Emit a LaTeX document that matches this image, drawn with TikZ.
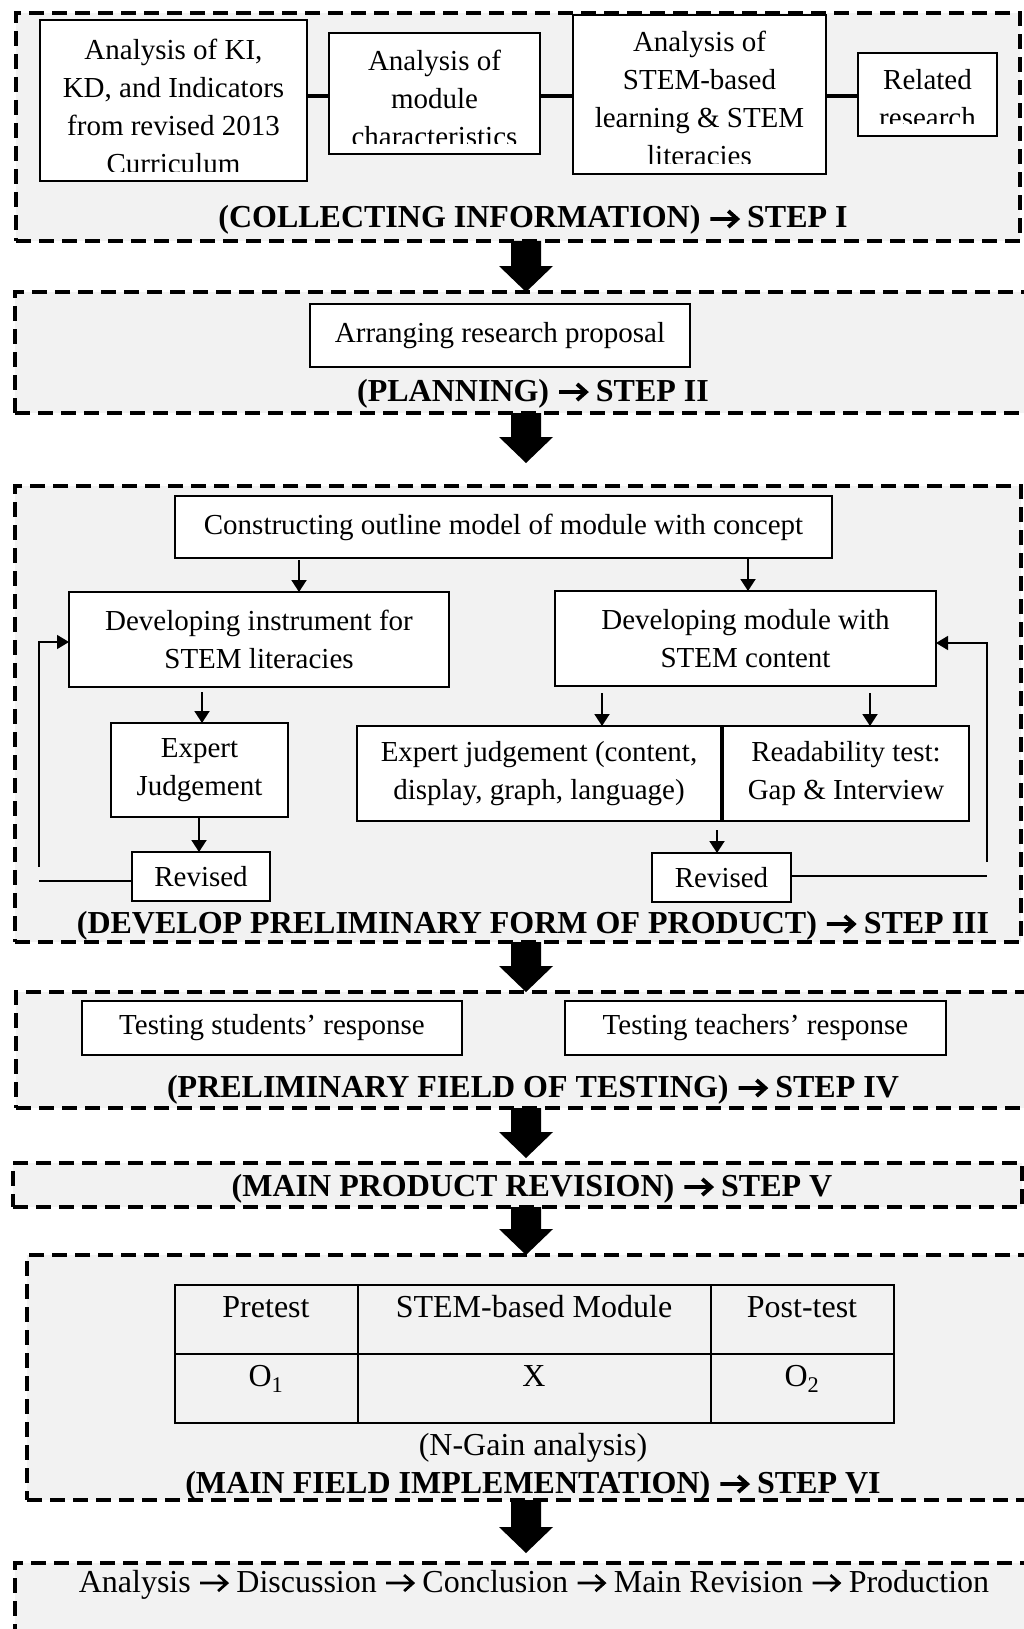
\documentclass[tikz,border=0pt]{standalone}
\usepackage{fontspec}
\setmainfont{Liberation Serif}
\usetikzlibrary{calc,arrows.meta}
\definecolor{panel}{RGB}{242,242,242}
\newcommand\rarr[1][0.12em]{\tikz[baseline=0pt]\draw[line width=#1,line cap=butt,line join=miter,miter limit=10] (0pt,0.28em)--(0.82em,0.28em) (0.56em,0.53em)--(0.84em,0.28em)--(0.56em,0.03em);}
\newcommand\ml[1]{\begin{tabular}[t]{@{}c@{}}#1\end{tabular}}
\newcommand\barrow[2]{\fill[black] ($(#1)+(-15,0)$) -- ($(#2)+(-15,-26)$) -- ($(#2)+(-27,-26)$) -- (#2) -- ($(#2)+(27,-26)$) -- ($(#2)+(15,-26)$) -- ($(#1)+(15,0)$) -- cycle;}
\begin{document}
\begin{tikzpicture}[x=1pt,y=-1pt,font=\fontsize{29}{38}\selectfont,
  stage/.style={draw,line width=3.5pt,dash pattern=on 15pt off 8pt,fill=panel,rectangle,inner sep=0pt,outer sep=0pt,anchor=north west},
  box/.style={draw,line width=1.4pt,fill=white,rectangle,inner sep=0pt,outer sep=0pt,align=center,anchor=north west},
  lbl/.style={font=\fontsize{32}{38}\selectfont\bfseries,anchor=base,inner sep=0pt},
  big/.style={font=\fontsize{32}{38}\selectfont,anchor=base,inner sep=0pt},
  txt/.style={anchor=base,inner sep=0pt},
  arr/.style={line width=1.9pt,-{Triangle[length=12pt,width=15pt]}},
  fb/.style={line width=1.3pt},
  fbarr/.style={line width=1.3pt,-{Triangle[length=12pt,width=14pt]}},
  link/.style={line width=4.5pt}]
\useasboundingbox (0,0) rectangle (1023,1629);

% ---- stage panels ----
\node[stage,minimum width=1004pt,minimum height=228pt] (s1) at (16,13) {};
\node[stage,minimum width=1025pt,minimum height=121pt] (s2) at (15,292) {};
\node[stage,minimum width=1006pt,minimum height=456pt] (s3) at (15,486) {};
\node[stage,minimum width=1024pt,minimum height=116pt] (s4) at (16,992) {};
\node[stage,minimum width=1009pt,minimum height=44pt] (s5) at (13,1163) {};
\node[stage,minimum width=1013pt,minimum height=245pt] (s6) at (27,1255) {};
\node[stage,minimum width=1025pt,minimum height=97pt] (s7) at (15,1563) {};

% ---- step I ----
\node[box,minimum width=267pt,minimum height=161pt] (ki) at (40,20) {};
\node[box,minimum width=211pt,minimum height=121pt] (mod) at (329,33) {};
\node[box,minimum width=253pt,minimum height=159pt] (stm) at (573,15) {};
\node[box,minimum width=139pt,minimum height=83pt] (rel) at (858,53) {};
\begin{scope}
\clip (ki.north west) rectangle ([yshift=9pt]ki.south east);
\node[txt] (kit) at (173.5,60) {\ml{Analysis of KI,\\KD, and Indicators\\from revised 2013\\Curriculum}};
\end{scope}
\begin{scope}
\clip (mod.north west) rectangle ([yshift=10pt]mod.south east);
\node[txt] (modt) at (434.5,71) {\ml{Analysis of\\module\\characteristics}};
\end{scope}
\begin{scope}
\clip (stm.north west) rectangle ([yshift=10pt]stm.south east);
\node[txt] (stmt) at (699.5,52) {\ml{Analysis of\\STEM-based\\learning \& STEM\\literacies}};
\end{scope}
\begin{scope}
\clip (rel.north west) rectangle ([yshift=12pt]rel.south east);
\node[txt] (relt) at (927.5,90) {\ml{Related\\research}};
\end{scope}
\coordinate (yc) at (0,96);
\draw[link] (ki.east |- yc) -- (mod.west |- yc);
\draw[link] (mod.east |- yc) -- (stm.west |- yc);
\draw[link] (stm.east |- yc) -- (rel.west |- yc);
\node[lbl] (l1) at (533,228) {(COLLECTING INFORMATION) \rarr{} STEP I};

% ---- step II ----
\node[box,minimum width=380pt,minimum height=63pt] (arp) at (310,304) {Arranging research proposal};
\node[lbl] (l2) at (533,401) {(PLANNING) \rarr{} STEP II};

% ---- step III ----
\node[box,minimum width=657pt,minimum height=62pt] (con) at (175,496) {Constructing outline model of module with concept};
\node[box,minimum width=380pt,minimum height=95pt] (dinst) at (69,592) {Developing instrument for\\STEM literacies};
\node[box,minimum width=381pt,minimum height=95pt] (dmod) at (555,591) {Developing module with\\STEM content};
\node[box,minimum width=177pt,minimum height=94pt] (ej1) at (111,723) {Expert\\Judgement};
\node[box,minimum width=138pt,minimum height=49pt] (rev1) at (132,852) {Revised};
\node[box,minimum width=364pt,minimum height=95pt] (ej2) at (357,726) {Expert judgement (content,\\display, graph, language)};
\node[box,minimum width=246pt,minimum height=95pt] (read) at (723,726) {Readability test:\\Gap \& Interview};
\node[box,minimum width=139pt,minimum height=49pt] (rev2) at (652,853) {Revised};
\coordinate (xa) at (299,0);
\coordinate (xb) at (748,0);
\coordinate (xc) at (202,0);
\coordinate (xd) at (199,0);
\coordinate (xe) at (602,0);
\coordinate (xf) at (870,0);
\coordinate (xg) at (717,0);
\draw[arr,shorten <=2pt] (con.south -| xa) -- (dinst.north -| xa);
\draw[arr] (con.south -| xb) -- (dmod.north -| xb);
\draw[arr,shorten <=5pt] (dinst.south -| xc) -- (ej1.north -| xc);
\draw[arr,shorten <=1pt] (ej1.south -| xd) -- (rev1.north -| xd);
\draw[arr,shorten <=7pt] (dmod.south -| xe) -- (ej2.north -| xe);
\draw[arr,shorten <=7pt] (dmod.south -| xf) -- (read.north -| xf);
\draw[arr,shorten <=9pt] (ej2.south -| xg) -- (rev2.north -| xg);
\coordinate (fl) at (39,0);
\coordinate (yl1) at (0,881);
\coordinate (yl2) at (0,867);
\coordinate (yl3) at (0,642);
\draw[fb] (rev1.west |- yl1) -- (fl |- yl1);
\draw[fbarr] (fl |- yl2) -- (fl |- yl3) -- (dinst.west |- yl3);
\coordinate (fr) at (987,0);
\coordinate (yr1) at (0,876);
\coordinate (yr2) at (0,862);
\coordinate (yr3) at (0,643);
\draw[fb] (rev2.east |- yr1) -- (fr |- yr1);
\draw[fbarr] (fr |- yr2) -- (fr |- yr3) -- (dmod.east |- yr3);
\node[lbl] (l3) at (533,933) {(DEVELOP PRELIMINARY FORM OF PRODUCT) \rarr{} STEP III};

% ---- step IV ----
\node[box,minimum width=380pt,minimum height=54pt] (tstu) at (82,1001) {Testing students’ response};
\node[box,minimum width=381pt,minimum height=54pt] (ttea) at (565,1001) {Testing teachers’ response};
\node[lbl] (l4) at (533,1097) {(PRELIMINARY FIELD OF TESTING) \rarr{} STEP IV};

% ---- step V ----
\node[lbl] (l5) at (532,1196) {(MAIN PRODUCT REVISION) \rarr{} STEP V};

% ---- step VI ----
\draw[line width=2pt] (175,1285) rectangle (894,1423);
\draw[line width=2pt] (358,1285) -- (358,1423) (711,1285) -- (711,1423) (175,1354) -- (894,1354);
\node[big] (tpre) at (266,1317) {Pretest};
\node[big] (tmod) at (534,1317) {STEM-based Module};
\node[big] (tpost) at (802,1317) {Post-test};
\node[big] (to1) at (266,1386) {O\textsubscript{1}};
\node[big] (tx) at (534,1386) {X};
\node[big] (to2) at (802,1386) {O\textsubscript{2}};
\node[big] (ngain) at (533,1455) {(N-Gain analysis)};
\node[lbl] (l6) at (533,1493) {(MAIN FIELD IMPLEMENTATION) \rarr{} STEP VI};

% ---- step VII ----
\node[big] (l7) at (534,1592) {Analysis \rarr[0.085em]{} Discussion \rarr[0.085em]{} Conclusion \rarr[0.085em]{} Main Revision \rarr[0.085em]{} Production};

% ---- block arrows ----
\coordinate (ax) at (526,0);
\coordinate (b1) at (s1.south -| ax);
\coordinate (e1) at (s2.north -| ax);
\coordinate (b2) at (s2.south -| ax);
\coordinate (e2) at ($(s3.north -| ax)+(0,-23)$);
\coordinate (b3) at (s3.south -| ax);
\coordinate (e3) at (s4.north -| ax);
\coordinate (b4) at (s4.south -| ax);
\coordinate (e4) at ($(s5.north -| ax)+(0,-5)$);
\coordinate (b5) at (s5.south -| ax);
\coordinate (e5) at (s6.north -| ax);
\coordinate (b6) at (s6.south -| ax);
\coordinate (e6) at ($(s7.north -| ax)+(0,-10)$);
\barrow{b1}{e1}
\barrow{b2}{e2}
\barrow{b3}{e3}
\barrow{b4}{e4}
\barrow{b5}{e5}
\barrow{b6}{e6}
\end{tikzpicture}
\end{document}
